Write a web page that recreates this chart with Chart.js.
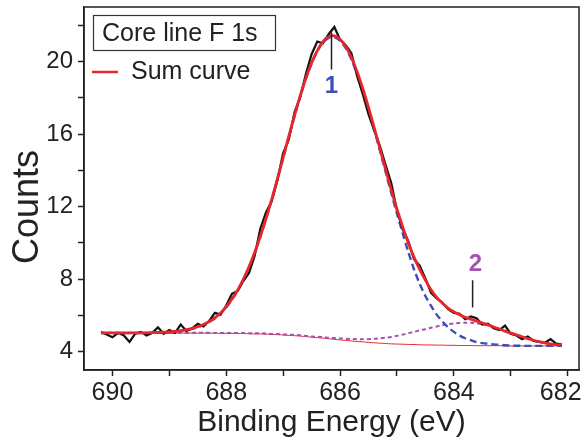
<!DOCTYPE html>
<html lang="en">
<head>
<meta charset="UTF-8">
<title>Core line F 1s</title>
<style>
  html, body { margin: 0; padding: 0; background: #fff; }
  #wrap { width: 585px; height: 448px; }
</style>
</head>
<body>
<div id="wrap"><canvas id="xpsChart" width="585" height="448"></canvas></div>
<script src="https://cdn.jsdelivr.net/npm/chart.js"></script>
<script>
// binding energy (eV)
const energy = [
  690.2,690.1,690.0,689.9,689.8,689.7,689.6,689.5,689.4,689.3,
  689.2,689.1,689.0,688.9,688.8,688.7,688.6,688.5,688.4,688.3,
  688.2,688.1,688.0,687.9,687.8,687.7,687.6,687.5,687.4,687.3,
  687.2,687.1,687.0,686.9,686.8,686.7,686.6,686.5,686.4,686.3,
  686.2,686.1,686.0,685.9,685.8,685.7,685.6,685.5,685.4,685.3,
  685.2,685.1,685.0,684.9,684.8,684.7,684.6,684.5,684.4,684.3,
  684.2,684.1,684.0,683.9,683.8,683.7,683.6,683.5,683.4,683.3,
  683.2,683.1,683.0,682.9,682.8,682.7,682.6,682.5,682.4,682.3,
  682.2,682.1
];
// measured spectrum (black)
const counts = [
  5.10,4.95,4.80,5.05,4.90,4.55,5.00,5.10,4.90,5.05,
  5.35,5.00,5.20,5.05,5.50,5.15,5.30,5.55,5.40,5.70,
  6.15,6.05,6.55,7.20,7.35,7.90,8.35,9.30,10.80,11.70,
  12.30,13.45,14.95,15.70,17.20,18.05,19.30,20.40,21.10,21.00,
  21.50,21.90,21.20,20.90,20.45,19.20,18.20,17.10,16.20,15.35,
  14.30,13.30,11.80,10.75,10.10,9.10,8.75,8.05,7.25,6.95,
  6.70,6.35,6.15,6.10,5.80,5.95,5.85,5.50,5.55,5.30,
  5.20,5.45,5.00,4.90,4.70,4.85,4.60,4.55,4.50,4.70,
  4.45,4.40
];
// sum curve (red)
const sumCurve = [
  5.05,5.05,5.05,5.05,5.05,5.05,5.05,5.05,5.05,5.06,
  5.07,5.08,5.10,5.13,5.17,5.22,5.29,5.38,5.51,5.67,
  5.87,6.14,6.48,6.91,7.40,8.00,8.69,9.48,10.38,11.36,
  12.42,13.55,14.70,15.88,17.02,18.10,19.08,19.92,20.60,21.09,
  21.36,21.41,21.22,20.82,20.22,19.44,18.51,17.47,16.36,15.21,
  14.05,12.93,11.87,10.90,10.00,9.22,8.54,7.95,7.42,7.00,
  6.68,6.41,6.21,6.05,5.91,5.80,5.69,5.59,5.49,5.37,
  5.26,5.14,5.03,4.94,4.83,4.73,4.64,4.56,4.49,4.44,
  4.40,4.37
];
// component 1 on background (blue dashed)
const peak1 = [
  5.03,5.03,5.03,5.03,5.03,5.03,5.03,5.03,5.03,5.04,
  5.05,5.06,5.08,5.11,5.15,5.20,5.27,5.36,5.49,5.65,
  5.85,6.12,6.46,6.88,7.37,7.97,8.66,9.45,10.35,11.33,
  12.39,13.52,14.67,15.84,16.98,18.06,19.04,19.88,20.55,21.04,
  21.30,21.34,21.14,20.73,20.11,19.31,18.36,17.32,16.25,15.10,
  13.92,12.75,11.62,10.55,9.50,8.55,7.75,7.08,6.53,6.05,
  5.67,5.35,5.10,4.90,4.75,4.64,4.54,4.48,4.44,4.41,
  4.39,4.36,4.35,4.34,4.33,4.33,4.33,4.33,4.33,4.33,
  4.33,4.33
];
// component 2 on background (magenta dashed)
const peak2 = [
  5.05,5.05,5.05,5.05,5.05,5.05,5.05,5.05,5.05,5.05,
  5.05,5.05,5.05,5.05,5.05,5.05,5.05,5.05,5.05,5.05,
  5.04,5.04,5.04,5.04,5.04,5.04,5.03,5.02,5.02,5.01,
  4.99,4.98,4.96,4.95,4.93,4.91,4.88,4.85,4.83,4.81,
  4.78,4.76,4.74,4.72,4.71,4.70,4.70,4.70,4.72,4.75,
  4.78,4.82,4.88,4.95,5.02,5.10,5.18,5.25,5.33,5.40,
  5.47,5.52,5.57,5.59,5.60,5.60,5.57,5.53,5.46,5.36,
  5.26,5.15,5.04,4.93,4.83,4.73,4.64,4.56,4.49,4.44,
  4.40,4.37
];
// background (thin red)
const background = [
  5.03,5.03,5.03,5.03,5.03,5.03,5.03,5.03,5.03,5.03,
  5.03,5.03,5.03,5.03,5.03,5.03,5.03,5.03,5.03,5.03,
  5.02,5.02,5.02,5.02,5.01,5.01,5.00,4.99,4.99,4.98,
  4.96,4.95,4.93,4.91,4.89,4.87,4.84,4.81,4.78,4.76,
  4.72,4.69,4.66,4.63,4.60,4.57,4.55,4.52,4.50,4.48,
  4.46,4.44,4.43,4.42,4.41,4.40,4.39,4.38,4.38,4.37,
  4.37,4.36,4.36,4.35,4.35,4.35,4.34,4.34,4.34,4.34,
  4.34,4.33,4.33,4.33,4.33,4.33,4.33,4.33,4.33,4.33,
  4.33,4.33
];
const xTicks = [682,683,684,685,686,687,688,689,690];
const yTicks = [4,6,8,10,12,14,16,18,20,22];

const FONT = "'Liberation Sans', Arial, sans-serif";
const RED = '#e8262c';
const BLUE = '#3b4fb8';
const PURPLE = '#a352b0';

function pts(arr) {
  return arr.map((v, i) => ({ x: energy[i], y: v }));
}

// frame, legend box and the peak markers
const decor = {
  id: 'decor',
  afterDraw(chart) {
    const { ctx, chartArea: a, scales: { x, y } } = chart;
    ctx.save();
    ctx.strokeStyle = '#222';
    ctx.lineWidth = 1.5;
    ctx.strokeRect(a.left, a.top, a.right - a.left, a.bottom - a.top);

    // legend
    ctx.fillStyle = '#fff';
    ctx.fillRect(93, 15, 182, 35);
    ctx.strokeStyle = '#333';
    ctx.lineWidth = 1.2;
    ctx.strokeRect(93.5, 15.5, 182, 35);
    ctx.fillStyle = '#222';
    ctx.font = '25px ' + FONT;
    ctx.textBaseline = 'middle';
    ctx.textAlign = 'left';
    ctx.fillText('Core line F 1s', 102, 34);
    ctx.fillText('Sum curve', 131, 72);
    ctx.strokeStyle = RED;
    ctx.lineWidth = 2.5;
    ctx.beginPath();
    ctx.moveTo(92, 72);
    ctx.lineTo(118, 72);
    ctx.stroke();

    // peak labels
    ctx.strokeStyle = '#222';
    ctx.lineWidth = 1.5;
    ctx.beginPath();
    ctx.moveTo(x.getPixelForValue(686.15), y.getPixelForValue(21.6));
    ctx.lineTo(x.getPixelForValue(686.15), y.getPixelForValue(19.55));
    ctx.moveTo(x.getPixelForValue(683.67), y.getPixelForValue(7.95));
    ctx.lineTo(x.getPixelForValue(683.67), y.getPixelForValue(6.45));
    ctx.stroke();
    ctx.font = 'bold 24px ' + FONT;
    ctx.textAlign = 'center';
    ctx.fillStyle = BLUE;
    ctx.fillText('1', x.getPixelForValue(686.15), y.getPixelForValue(18.62));
    ctx.fillStyle = PURPLE;
    ctx.fillText('2', x.getPixelForValue(683.62), y.getPixelForValue(8.8));

    // y title
    ctx.fillStyle = '#222';
    ctx.font = '36px ' + FONT;
    ctx.translate(28, 207);
    ctx.rotate(-Math.PI / 2);
    ctx.fillText('Counts', 0, 0);
    ctx.restore();
  }
};

new Chart(document.getElementById('xpsChart'), {
  type: 'line',
  data: {
    datasets: [
      { label: 'Sum curve', data: pts(sumCurve), borderColor: RED, borderWidth: 2.8, tension: 0.3 },
      { label: 'Data', data: pts(counts), borderColor: '#111', borderWidth: 2.2, tension: 0 },
      { label: 'Peak 1', data: pts(peak1), borderColor: BLUE, borderWidth: 2.4, borderDash: [7, 4], tension: 0.3 },
      { label: 'Peak 2', data: pts(peak2), borderColor: PURPLE, borderWidth: 2, borderDash: [4, 3], tension: 0.3 },
      { label: 'Background', data: pts(background), borderColor: RED, borderWidth: 1, tension: 0.3 }
    ]
  },
  options: {
    responsive: false,
    animation: false,
    devicePixelRatio: 1,
    elements: { point: { radius: 0 } },
    layout: { padding: { top: 7, right: 6, left: 0, bottom: 0 } },
    plugins: { legend: { display: false }, tooltip: { enabled: false } },
    scales: {
      x: {
        type: 'linear',
        reverse: true,
        min: 681.8,
        max: 690.5,
        afterBuildTicks: s => { s.ticks = xTicks.map(v => ({ value: v })); },
        afterFit: s => { s.height = 78; s.paddingLeft = 0; s.paddingRight = 0; },
        grid: { drawOnChartArea: false, drawTicks: true, tickLength: 6, color: '#222', tickWidth: 1.5 },
        border: { display: true, color: '#222', width: 1.5 },
        ticks: {
          color: '#222', padding: 2, maxRotation: 0, autoSkip: false,
          font: { family: FONT, size: 25 },
          // last label sits a little left of its tick in the original
          callback: v => (v === 682 ? '682  ' : (v % 2 === 0 ? String(v) : ''))
        },
        title: {
          display: true, text: 'Binding Energy (eV)', color: '#222',
          font: { family: FONT, size: 30 }, padding: { top: 0, bottom: 7 }
        }
      },
      y: {
        type: 'linear',
        min: 3,
        max: 23,
        afterBuildTicks: s => { s.ticks = yTicks.map(v => ({ value: v })); },
        afterFit: s => { s.width = 84; s.paddingTop = 0; s.paddingBottom = 0; },
        grid: { drawOnChartArea: false, drawTicks: true, tickLength: 6, color: '#222', tickWidth: 1.5 },
        border: { display: true, color: '#222', width: 1.5 },
        ticks: {
          color: '#222', padding: 5, autoSkip: false,
          font: { family: FONT, size: 24 },
          callback: v => (v % 4 === 0 ? String(v) : '')
        }
      }
    }
  },
  plugins: [decor]
});
</script>
</body>
</html>
